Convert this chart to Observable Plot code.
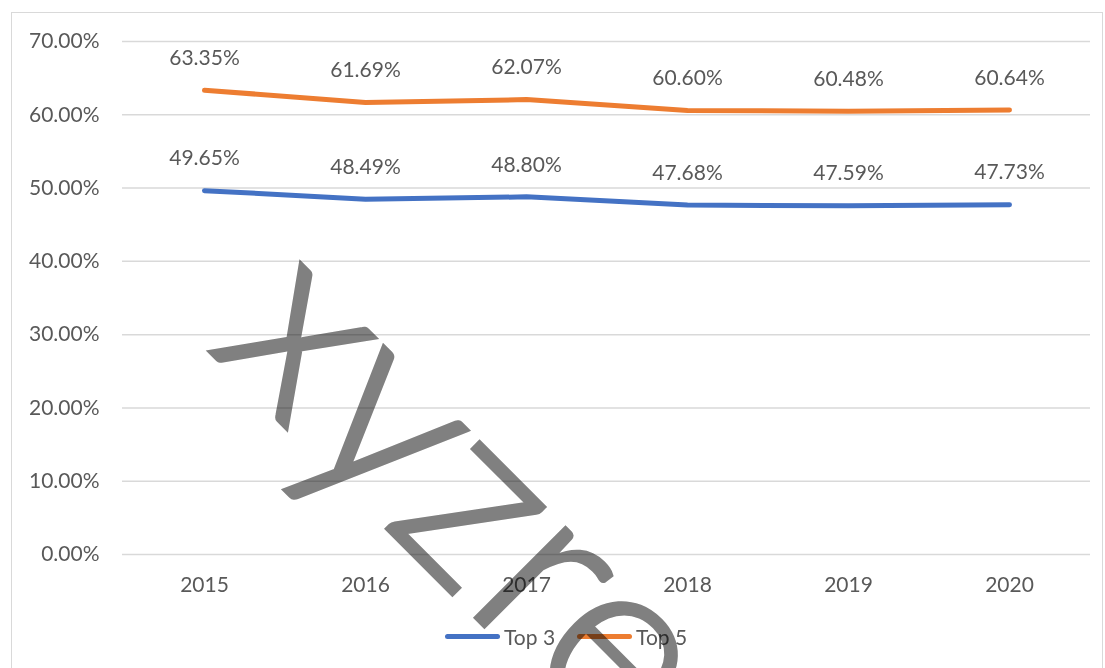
<!DOCTYPE html>
<html><head><meta charset="utf-8">
<script src="https://cdn.jsdelivr.net/npm/d3@7"></script>
<script src="https://cdn.jsdelivr.net/npm/@observablehq/plot@0.6"></script>
<style>
html,body{margin:0;padding:0;width:1105px;height:668px;overflow:hidden;background:#fff;font-family:Lato,"Open Sans",sans-serif;}
#frame{position:absolute;left:11px;top:12px;width:1092px;height:700px;border:1.5px solid #d9d9d9;box-sizing:border-box;}
#chart{position:absolute;left:0;top:0;}
#legend{position:absolute;left:445px;top:624px;display:flex;align-items:center;font-size:21px;color:#595959;font-family:Lato,sans-serif;}
#legend .item{display:flex;align-items:center;margin-right:22px;}
#legend .sw{width:55px;height:5px;border-radius:3px;margin-right:4px;}
#wm{position:absolute;left:0;top:0;pointer-events:none;mix-blend-mode:multiply;}
</style></head>
<body>
<div id="frame"></div>
<div id="chart"></div>
<div id="legend"></div>
<svg id="wm" width="1105" height="668"></svg>
<script>
const years = ["2015","2016","2017","2018","2019","2020"];
const seriesNames = ["Top 3","Top 5"];
const seriesColors = ["#4472C4","#ED7D31"];
const top3 = [0.4965,0.4849,0.4880,0.4768,0.4759,0.4773];
const top5 = [0.6335,0.6169,0.6207,0.6060,0.6048,0.6064];
const yTicks = [0,0.1,0.2,0.3,0.4,0.5,0.6,0.7];
const watermark = "xyzre";

const rows = [];
years.forEach((y,i)=>{ rows.push({year:y, series:"Top 3", value:top3[i]}); });
years.forEach((y,i)=>{ rows.push({year:y, series:"Top 5", value:top5[i]}); });
const pct = d3.format(".2%");

const chart = Plot.plot({
  width:1105, height:610,
  marginLeft:122, marginRight:15, marginTop:41, marginBottom:56,
  style:{fontFamily:"Lato, 'Open Sans', sans-serif", fontSize:"21px", color:"#595959", background:"transparent"},
  x:{type:"point", domain:years, padding:0.5, label:null},
  y:{domain:[0,0.7], label:null},
  color:{domain:seriesNames, range:seriesColors},
  marks:[
    Plot.ruleY(yTicks,{stroke:"#d9d9d9", strokeWidth:1.5}),
    Plot.axisY({ticks:yTicks, tickFormat:pct, tickSize:0, tickPadding:23, label:null, fontSize:21, fill:"#595959"}),
    Plot.axisX({tickSize:0, tickPadding:23, label:null, fontSize:21, fill:"#595959"}),
    Plot.line(rows,{x:"year", y:"value", z:"series", stroke:"series", strokeWidth:5, strokeLinecap:"round", strokeLinejoin:"round"}),
    Plot.text(rows,{x:"year", y:"value", text:d=>pct(d.value), dy:-32, fontSize:21, fill:"#595959"})
  ]
});
document.getElementById("chart").appendChild(chart);

const legend = document.getElementById("legend");
seriesNames.forEach((n,i)=>{
  const it = document.createElement("div"); it.className="item";
  const sw = document.createElement("div"); sw.className="sw"; sw.style.background=seriesColors[i];
  const t = document.createElement("span"); t.textContent=n;
  it.appendChild(sw); it.appendChild(t); legend.appendChild(it);
});

const wm = d3.select("#wm");
wm.append("text")
  .attr("transform","translate(206,348) rotate(45)")
  .attr("font-size",255).attr("font-family","Lato, sans-serif").attr("font-weight",300)
  .attr("fill","#808080").attr("stroke","#808080").attr("stroke-width",4).attr("stroke-linejoin","miter")
  .text(watermark);
</script>
</body></html>
